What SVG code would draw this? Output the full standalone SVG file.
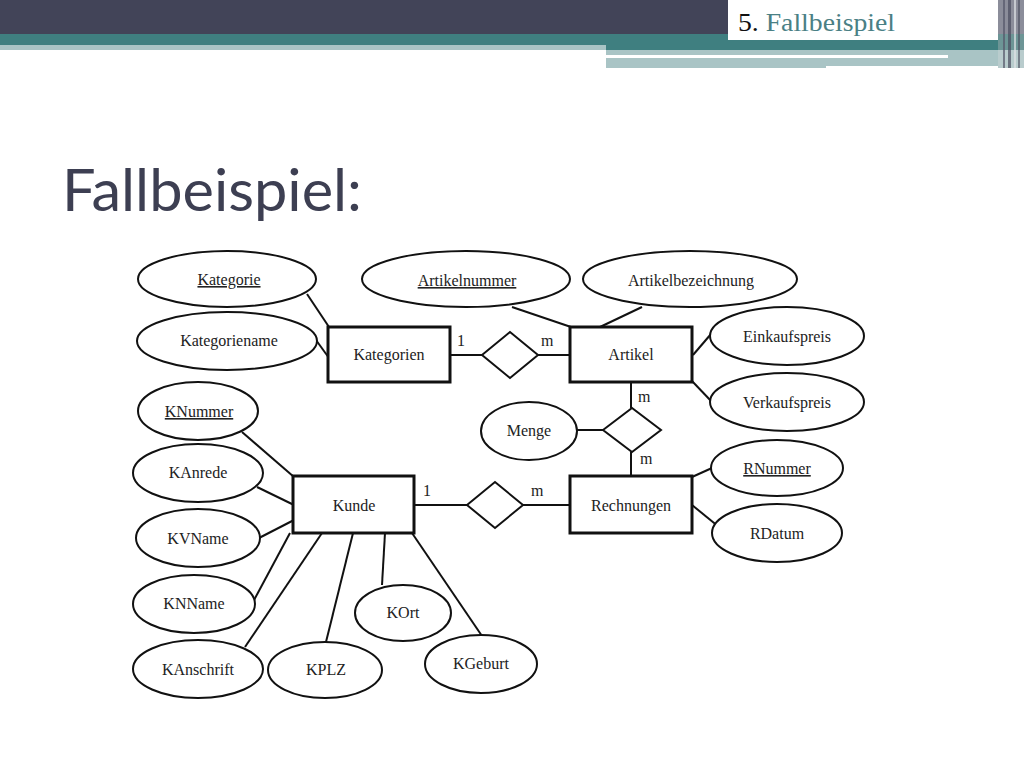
<svg xmlns="http://www.w3.org/2000/svg" width="1024" height="768" viewBox="0 0 1024 768">
<defs>
<style>
.ent{fill:#fff;stroke:#111;stroke-width:3}
.att{fill:#fff;stroke:#111;stroke-width:2}
.rel{fill:#fff;stroke:#111;stroke-width:2}
.ln{stroke:#111;stroke-width:2;fill:none}
.t{font-family:"Liberation Serif","Times New Roman",serif;font-size:16px;fill:#222;text-anchor:middle}
.u{text-decoration:underline}
.c{font-family:"Liberation Serif","Times New Roman",serif;font-size:16px;fill:#222}
</style>
</defs>
<rect width="1024" height="768" fill="#fff"/>
<!-- header -->
<g id="header">
<rect x="0" y="0" width="1024" height="34" fill="#424458"/>
<rect x="0" y="34" width="1024" height="11" fill="#3f7f80"/>
<rect x="0" y="45" width="606" height="5" fill="#a9c4c5"/>
<rect x="606" y="45" width="400" height="5" fill="#3f7f80"/>
<rect x="606" y="50" width="400" height="18" fill="#a9c4c5"/>
<rect x="606" y="55" width="342" height="3" fill="#fff"/>
<rect x="826" y="66" width="180" height="2" fill="#fff"/>
<rect x="998" y="0" width="26" height="68" fill="#8b8d9a"/>
<rect x="998" y="34" width="26" height="16" fill="#6d9596"/>
<rect x="998" y="50" width="26" height="18" fill="#b9cccd"/>
<rect x="1003" y="0" width="2" height="68" fill="#55576a" opacity="0.7"/>
<rect x="1008" y="0" width="3" height="68" fill="#4a4c5e" opacity="0.7"/>
<rect x="1014" y="0" width="2" height="68" fill="#dfe2e6" opacity="0.7"/>
<rect x="1018" y="0" width="2" height="68" fill="#4a4c5e" opacity="0.6"/>
<rect x="728" y="0" width="270" height="40" fill="#fff"/>
<text x="738" y="31" font-family="'Liberation Serif','Times New Roman',serif" font-size="25" textLength="157" lengthAdjust="spacingAndGlyphs"><tspan fill="#111">5. </tspan><tspan fill="#4a8085">Fallbeispiel</tspan></text>
</g>
<text id="title" x="62" y="211" font-family="Lato,'Liberation Sans',sans-serif" font-size="58" fill="#3d3f52" textLength="300" lengthAdjust="spacingAndGlyphs">Fallbeispiel:</text>
<!-- connectors -->
<g id="connectors">
<line class="ln" x1="450" y1="355" x2="482" y2="355"/>
<line class="ln" x1="538" y1="355" x2="570" y2="355"/>
<line class="ln" x1="631" y1="382" x2="631" y2="408"/>
<line class="ln" x1="631" y1="452" x2="631" y2="476"/>
<line class="ln" x1="577" y1="430" x2="603" y2="430"/>
<line class="ln" x1="415" y1="505" x2="467" y2="505"/>
<line class="ln" x1="523" y1="505" x2="570" y2="505"/>
<line class="ln" x1="307" y1="294" x2="329" y2="327"/>
<line class="ln" x1="316" y1="340" x2="329" y2="358"/>
<line class="ln" x1="512" y1="307" x2="571" y2="327"/>
<line class="ln" x1="642" y1="307" x2="600" y2="327"/>
<line class="ln" x1="711" y1="334" x2="693" y2="355"/>
<line class="ln" x1="692" y1="381" x2="712" y2="402"/>
<line class="ln" x1="692" y1="477" x2="712" y2="468"/>
<line class="ln" x1="692" y1="505" x2="719" y2="527"/>
<line class="ln" x1="242" y1="432" x2="294" y2="477"/>
<line class="ln" x1="257" y1="487" x2="294" y2="505"/>
<line class="ln" x1="259" y1="538" x2="294" y2="520"/>
<line class="ln" x1="290" y1="533" x2="253" y2="602"/>
<line class="ln" x1="322" y1="533" x2="245" y2="647"/>
<line class="ln" x1="353" y1="533" x2="326" y2="642"/>
<line class="ln" x1="385" y1="533" x2="382" y2="585"/>
<line class="ln" x1="412" y1="533" x2="482" y2="636"/>
<text class="c" x="457" y="346">1</text>
<text class="c" x="541" y="346">m</text>
<text class="c" x="638" y="402">m</text>
<text class="c" x="640" y="464">m</text>
<text class="c" x="423" y="496">1</text>
<text class="c" x="531" y="496">m</text>
</g>
<!-- entities -->
<g id="Kategorien"><rect class="ent" x="328" y="327" width="122" height="55"/><text class="t" x="389" y="360">Kategorien</text></g>
<g id="Artikel"><rect class="ent" x="570" y="327" width="122" height="55"/><text class="t" x="631" y="360">Artikel</text></g>
<g id="Kunde"><rect class="ent" x="293" y="476" width="121" height="57"/><text class="t" x="354" y="511">Kunde</text></g>
<g id="Rechnungen"><rect class="ent" x="570" y="476" width="122" height="57"/><text class="t" x="631" y="511">Rechnungen</text></g>
<!-- relationships -->
<g id="rel-KatArt"><polygon class="rel" points="482,355 510,332 538,355 510,378"/></g>
<g id="rel-ArtRech"><polygon class="rel" points="603,430 632,408 661,430 632,452"/></g>
<g id="rel-KundeRech"><polygon class="rel" points="467,505 495,482 523,505 495,528"/></g>
<!-- attributes -->
<g id="Kategorie"><ellipse class="att" cx="227" cy="279" rx="89" ry="28"/><text class="t u" x="229" y="285">Kategorie</text></g>
<g id="Kategoriename"><ellipse class="att" cx="227" cy="341" rx="90" ry="29"/><text class="t" x="229" y="346">Kategoriename</text></g>
<g id="Artikelnummer"><ellipse class="att" cx="466" cy="279" rx="104" ry="28"/><text class="t u" x="467" y="286">Artikelnummer</text></g>
<g id="Artikelbezeichnung"><ellipse class="att" cx="690" cy="279" rx="107" ry="28"/><text class="t" x="691" y="286">Artikelbezeichnung</text></g>
<g id="Einkaufspreis"><ellipse class="att" cx="787" cy="336" rx="77" ry="29"/><text class="t" x="787" y="342">Einkaufspreis</text></g>
<g id="Verkaufspreis"><ellipse class="att" cx="787" cy="402" rx="77" ry="29"/><text class="t" x="787" y="408">Verkaufspreis</text></g>
<g id="Menge"><ellipse class="att" cx="529" cy="431" rx="48" ry="29"/><text class="t" x="529" y="436">Menge</text></g>
<g id="RNummer"><ellipse class="att" cx="777" cy="468" rx="66" ry="28"/><text class="t u" x="777" y="474">RNummer</text></g>
<g id="RDatum"><ellipse class="att" cx="777" cy="533" rx="65" ry="29"/><text class="t" x="777" y="539">RDatum</text></g>
<g id="KNummer"><ellipse class="att" cx="198" cy="411" rx="60" ry="29"/><text class="t u" x="199" y="417">KNummer</text></g>
<g id="KAnrede"><ellipse class="att" cx="198" cy="473" rx="65" ry="29"/><text class="t" x="198" y="478">KAnrede</text></g>
<g id="KVName"><ellipse class="att" cx="198" cy="538" rx="62" ry="29"/><text class="t" x="198" y="544">KVName</text></g>
<g id="KNName"><ellipse class="att" cx="194" cy="604" rx="61" ry="29"/><text class="t" x="194" y="609">KNName</text></g>
<g id="KAnschrift"><ellipse class="att" cx="198" cy="669" rx="65" ry="29"/><text class="t" x="198" y="675">KAnschrift</text></g>
<g id="KPLZ"><ellipse class="att" cx="325" cy="670" rx="57" ry="28"/><text class="t" x="326" y="675">KPLZ</text></g>
<g id="KOrt"><ellipse class="att" cx="403" cy="613" rx="48" ry="28"/><text class="t" x="403" y="618">KOrt</text></g>
<g id="KGeburt"><ellipse class="att" cx="481" cy="664" rx="56" ry="29"/><text class="t" x="481" y="669">KGeburt</text></g>
</svg>
